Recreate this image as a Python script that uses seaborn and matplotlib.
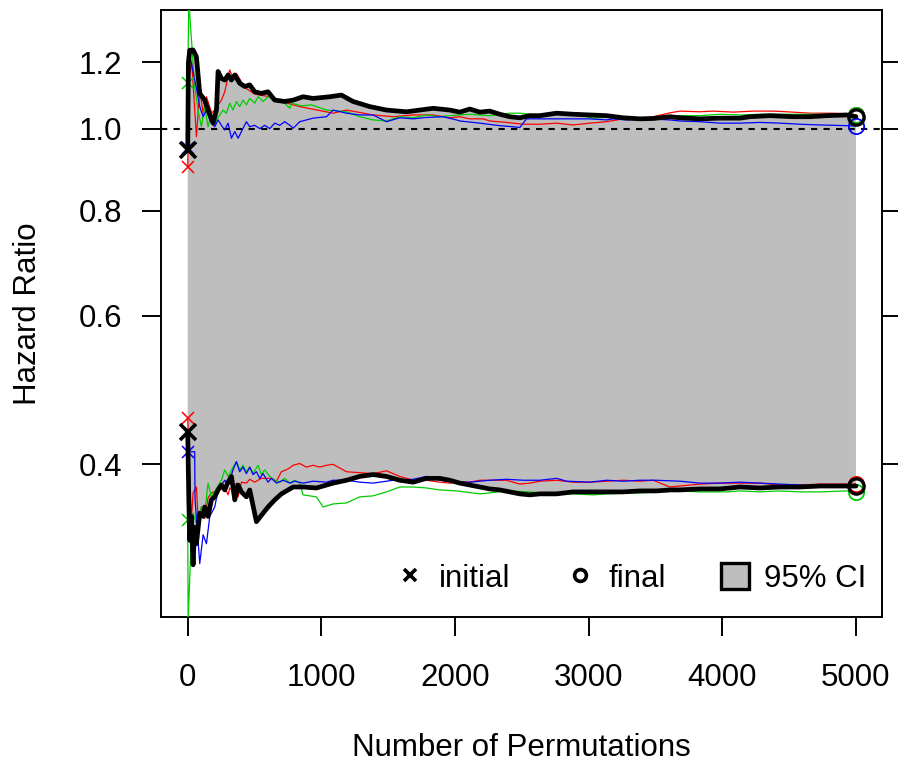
import numpy as np
import matplotlib
matplotlib.use("Agg")
import matplotlib.pyplot as plt
import seaborn as sns
from matplotlib.lines import Line2D
from matplotlib.patches import Patch
from matplotlib.ticker import FixedLocator, FormatStrFormatter, NullLocator

# permutation counts and hazard ratio CI bounds
perm_black_up = [0, 5, 15, 40, 65, 90, 127, 152, 190, 215,
                 227, 252, 277, 302, 327, 352, 389, 427, 464, 501,
                 551, 601, 651, 726, 789, 863, 938, 1063, 1150, 1237,
                 1362, 1487, 1637, 1836, 1886, 1961, 2036, 2111, 2186, 2260,
                 2335, 2410, 2485, 2560, 2635, 2760, 2884, 3009, 3134, 3258,
                 3383, 3483, 3608, 3683, 3832, 3982, 4132, 4207, 4356, 4531,
                 4656, 4781, 4930, 5000]
hr_black_up = [0.944, 1.20, 1.24, 1.241, 1.218, 1.102, 1.082, 1.053, 1.016, 1.053,
               1.170, 1.148, 1.143, 1.159, 1.143, 1.159, 1.133, 1.123, 1.128, 1.107,
               1.102, 1.107, 1.082, 1.078, 1.082, 1.092, 1.087, 1.092, 1.097, 1.078,
               1.063, 1.053, 1.048, 1.058, 1.056, 1.053, 1.047, 1.056, 1.047, 1.050,
               1.041, 1.034, 1.031, 1.037, 1.037, 1.044, 1.041, 1.039, 1.037, 1.031,
               1.028, 1.029, 1.034, 1.031, 1.028, 1.030, 1.030, 1.034, 1.037, 1.034,
               1.034, 1.037, 1.039, 1.034]

perm_black_lo = [0, 8, 15, 27, 40, 52, 65, 90, 115, 127,
                 152, 177, 202, 227, 252, 277, 302, 327, 352, 377,
                 402, 439, 464, 514, 551, 601, 651, 701, 751, 789,
                 863, 963, 1088, 1188, 1287, 1387, 1487, 1587, 1687, 1786,
                 1886, 1961, 2036, 2111, 2186, 2260, 2335, 2410, 2485, 2560,
                 2635, 2760, 2884, 3009, 3134, 3258, 3383, 3508, 3608, 3683,
                 3832, 3982, 4132, 4281, 4431, 4581, 4731, 4930, 5000]
hr_black_lo = [0.437, 0.363, 0.325, 0.347, 0.304, 0.337, 0.322, 0.350, 0.347, 0.356,
               0.347, 0.363, 0.366, 0.373, 0.378, 0.373, 0.381, 0.387, 0.363, 0.378,
               0.371, 0.366, 0.373, 0.342, 0.348, 0.356, 0.363, 0.369, 0.373, 0.376,
               0.376, 0.375, 0.380, 0.383, 0.387, 0.389, 0.387, 0.383, 0.381, 0.385,
               0.385, 0.383, 0.380, 0.378, 0.376, 0.374, 0.373, 0.371, 0.369, 0.368,
               0.369, 0.369, 0.371, 0.371, 0.371, 0.371, 0.372, 0.372, 0.373, 0.373,
               0.374, 0.374, 0.376, 0.375, 0.376, 0.376, 0.377, 0.377, 0.377]

perm_red_up = [0, 10, 30, 65, 90, 115, 140, 180, 215, 252,
               277, 314, 339, 364, 427, 501, 614, 726, 838, 1088,
               1188, 1387, 1537, 1687, 1836, 1961, 2036, 2111, 2211, 2260,
               2385, 2510, 2635, 2760, 2884, 3009, 3134, 3258, 3383, 3483,
               3608, 3683, 3832, 3932, 4082, 4232, 4381, 4531, 4656, 4830,
               4980, 5000]
hr_red_up = [0.902, 1.15, 1.20, 0.979, 1.112, 1.044, 1.092, 1.044, 1.060, 1.082,
             1.107, 1.175, 1.148, 1.164, 1.120, 1.100, 1.092, 1.075, 1.063, 1.044,
             1.053, 1.039, 1.034, 1.039, 1.039, 1.031, 1.034, 1.028, 1.028, 1.022,
             1.018, 1.013, 1.013, 1.016, 1.011, 1.016, 1.020, 1.028, 1.028, 1.034,
             1.045, 1.050, 1.048, 1.050, 1.047, 1.050, 1.050, 1.047, 1.044, 1.044,
             1.041, 1.039]

perm_green_up = [0, 8, 52, 77, 102, 127, 152, 177, 202, 240,
                 264, 289, 314, 339, 364, 389, 414, 439, 464, 501,
                 526, 564, 601, 651, 726, 764, 776, 850, 926, 1038,
                 1188, 1287, 1387, 1487, 1587, 1687, 1786, 1886, 1961, 2111,
                 2260, 2410, 2485, 2560, 2635, 2710, 2760, 2884, 3034, 3184,
                 3308, 3383, 3508, 3608, 3683, 3832, 3982, 4132, 4281, 4431,
                 4581, 4731, 4930, 5000]
hr_green_up = [1.133, 1.42, 1.123, 1.053, 1.006, 1.063, 1.006, 1.044, 1.016, 1.039,
               1.053, 1.044, 1.073, 1.053, 1.078, 1.063, 1.082, 1.068, 1.087, 1.073,
               1.092, 1.078, 1.092, 1.082, 1.073, 1.058, 1.073, 1.065, 1.068, 1.053,
               1.048, 1.034, 1.025, 1.022, 1.034, 1.031, 1.039, 1.034, 1.037, 1.041,
               1.037, 1.044, 1.044, 1.041, 1.034, 1.037, 1.044, 1.041, 1.030, 1.034,
               1.034, 1.028, 1.028, 1.034, 1.037, 1.037, 1.041, 1.039, 1.041, 1.041,
               1.041, 1.041, 1.041, 1.039]

perm_blue_up = [0, 8, 65, 90, 115, 140, 165, 202, 227, 252,
                277, 302, 327, 352, 377, 402, 439, 464, 501, 539,
                576, 614, 651, 689, 726, 764, 789, 838, 938, 1038,
                1088, 1188, 1287, 1387, 1487, 1587, 1687, 1786, 1911, 2011,
                2036, 2186, 2335, 2435, 2485, 2535, 2635, 2884, 3009, 3134,
                3184, 3283, 3433, 3608, 3683, 3832, 3982, 4132, 4281, 4431,
                4581, 4731, 4930, 5000]
hr_blue_up = [0.950, 1.240, 1.117, 1.063, 1.034, 1.053, 1.025, 1.006, 1.025, 1.010,
              0.997, 1.016, 0.975, 0.993, 0.975, 0.993, 1.020, 1.006, 1.010, 1.001,
              1.010, 1.001, 1.016, 1.010, 1.020, 1.010, 1.002, 1.020, 1.030, 1.034,
              1.053, 1.044, 1.039, 1.039, 1.020, 1.031, 1.028, 1.032, 1.034, 1.025,
              1.022, 1.016, 1.009, 1.006, 1.004, 1.028, 1.028, 1.028, 1.028, 1.025,
              1.028, 1.025, 1.028, 1.025, 1.022, 1.020, 1.016, 1.016, 1.018, 1.016,
              1.013, 1.011, 1.009, 1.008]

perm_red_lo = [0, 10, 27, 40, 65, 80, 102, 127, 152, 177,
               227, 277, 302, 314, 339, 364, 377, 402, 439, 464,
               501, 551, 626, 664, 701, 751, 789, 838, 888, 938,
               988, 1038, 1088, 1138, 1188, 1287, 1387, 1487, 1587, 1687,
               1786, 1886, 1961, 2036, 2111, 2186, 2260, 2385, 2485, 2560,
               2635, 2760, 2884, 3009, 3134, 3258, 3383, 3483, 3608, 3683,
               3832, 3982, 4132, 4281, 4431, 4581, 4731, 4930, 5000]
hr_red_lo = [0.454, 0.400, 0.343, 0.370, 0.376, 0.340, 0.356, 0.345, 0.365, 0.370,
             0.373, 0.376, 0.368, 0.375, 0.372, 0.380, 0.366, 0.381, 0.380, 0.384,
             0.381, 0.385, 0.385, 0.382, 0.392, 0.395, 0.399, 0.401, 0.397, 0.399,
             0.397, 0.399, 0.400, 0.396, 0.392, 0.391, 0.390, 0.393, 0.387, 0.383,
             0.383, 0.381, 0.380, 0.381, 0.381, 0.383, 0.383, 0.383, 0.379, 0.380,
             0.382, 0.383, 0.381, 0.381, 0.382, 0.383, 0.382, 0.383, 0.376, 0.377,
             0.379, 0.380, 0.380, 0.380, 0.378, 0.378, 0.379, 0.379, 0.379]

perm_green_lo = [0, 3, 27, 40, 65, 102, 127, 152, 177, 252,
                 277, 302, 339, 364, 389, 414, 439, 464, 489, 526,
                 551, 576, 614, 651, 689, 726, 764, 801, 838, 863,
                 963, 1013, 1088, 1188, 1287, 1387, 1487, 1587, 1687, 1786,
                 1886, 2011, 2186, 2260, 2385, 2560, 2635, 2760, 2884, 3034,
                 3134, 3383, 3533, 3683, 3832, 4032, 4132, 4281, 4431, 4581,
                 4731, 4930, 5000]
hr_green_lo = [0.344, 0.260, 0.331, 0.350, 0.340, 0.356, 0.350, 0.380, 0.366, 0.383,
               0.394, 0.387, 0.397, 0.403, 0.394, 0.399, 0.392, 0.397, 0.390, 0.399,
               0.389, 0.394, 0.387, 0.383, 0.381, 0.385, 0.380, 0.383, 0.380, 0.368,
               0.366, 0.356, 0.359, 0.360, 0.366, 0.367, 0.371, 0.376, 0.376, 0.375,
               0.373, 0.372, 0.369, 0.370, 0.372, 0.371, 0.370, 0.370, 0.369, 0.368,
               0.369, 0.370, 0.371, 0.372, 0.371, 0.371, 0.372, 0.371, 0.372, 0.371,
               0.371, 0.372, 0.371]

perm_blue_lo = [0, 40, 52, 55, 77, 90, 115, 140, 165, 202,
                227, 252, 277, 302, 339, 364, 389, 414, 439, 464,
                489, 514, 539, 564, 601, 626, 664, 714, 764, 801,
                863, 938, 1038, 1088, 1188, 1287, 1387, 1537, 1687, 1786,
                1886, 1986, 2111, 2260, 2385, 2510, 2635, 2760, 2835, 3009,
                3134, 3258, 3383, 3508, 3683, 3832, 3982, 4132, 4281, 4431,
                4581, 4731, 4930, 5000]
hr_blue_lo = [0.414, 0.414, 0.414, 0.363, 0.325, 0.305, 0.330, 0.322, 0.347, 0.356,
              0.373, 0.378, 0.383, 0.378, 0.394, 0.403, 0.392, 0.397, 0.390, 0.397,
              0.389, 0.392, 0.385, 0.390, 0.381, 0.385, 0.380, 0.383, 0.380, 0.382,
              0.380, 0.382, 0.381, 0.383, 0.383, 0.381, 0.380, 0.383, 0.384, 0.387,
              0.383, 0.381, 0.381, 0.383, 0.384, 0.383, 0.383, 0.385, 0.382, 0.381,
              0.383, 0.382, 0.383, 0.383, 0.382, 0.380, 0.380, 0.381, 0.380, 0.379,
              0.378, 0.377, 0.377, 0.377]

y_ticks = [0.4, 0.6, 0.8, 1.0, 1.2]
x_ticks = [0, 1000, 2000, 3000, 4000, 5000]
legend_labels = ["initial", "final", "95% CI"]

sns.set_style("ticks", rc={"axes.edgecolor": "black", "text.color": "black",
                           "axes.labelcolor": "black", "xtick.color": "black",
                           "ytick.color": "black"})
plt.rcParams["font.family"] = ["Liberation Sans", "DejaVu Sans"]
FS = 22.5

fig = plt.figure(figsize=(8.98, 7.71), dpi=100)
ax = fig.add_axes([161 / 898, 1 - 617 / 771, 721 / 898, 607 / 771])

# grey band between the black bounds
ax.fill(np.r_[perm_black_up, perm_black_lo[::-1]],
        np.r_[hr_black_up, hr_black_lo[::-1]],
        color="#BEBEBE", lw=0, zorder=1)
ax.axhline(1.0, color="black", lw=1.5, ls=(0, (3, 3)), zorder=2)

runs = [
    ("red", perm_red_up, hr_red_up, perm_red_lo, hr_red_lo),
    ("#00CD00", perm_green_up, hr_green_up, perm_green_lo, hr_green_lo),
    ("blue", perm_blue_up, hr_blue_up, perm_blue_lo, hr_blue_lo),
]
for col, pu, hu, pl, hl in runs:
    for p, h in [(pu, hu), (pl, hl)]:
        sns.lineplot(x=p, y=h, color=col, lw=0.9, estimator=None, sort=False,
                     ax=ax, zorder=3)
        ax.plot(p[0], h[0], marker="x", ms=9, mew=1.1, color=col, ls="none", zorder=4)
        ax.plot(p[-1], h[-1], marker="o", ms=11, mew=1.3, mfc="none", mec=col,
                ls="none", zorder=4)

for p, h in [(perm_black_up, hr_black_up), (perm_black_lo, hr_black_lo)]:
    sns.lineplot(x=p, y=h, color="black", lw=3.4, estimator=None, sort=False,
                 ax=ax, zorder=5)
    ax.plot(p[0], h[0], marker="x", ms=11, mew=2.6, color="black", ls="none", zorder=6)
    ax.plot(p[-1], h[-1], marker="o", ms=11, mew=2.4, mfc="none", mec="black",
            ls="none", zorder=6)

ax.set_yscale("log")
ax.set_xlim(-200, 5195)
ax.set_ylim(0.2636, 1.384)
ax.yaxis.set_major_locator(FixedLocator(y_ticks))
ax.yaxis.set_major_formatter(FormatStrFormatter("%.1f"))
ax.yaxis.set_minor_locator(NullLocator())
ax.set_xticks(x_ticks)
ax.set_xticklabels([str(t) for t in x_ticks])

for s in ax.spines.values():
    s.set_linewidth(1.4)
    s.set_visible(True)
ax.tick_params(axis="both", which="major", direction="out", length=13.7, width=1.4,
               labelsize=FS)
ax.tick_params(axis="y", right=True, labelright=False, pad=14)
ax.tick_params(axis="x", pad=19.5)

ax.set_xlabel("Number of Permutations", fontsize=FS, va="center")
ax.xaxis.set_label_coords(0.5, -0.2158)
ax.set_ylabel("Hazard Ratio", fontsize=FS, va="center")
ax.yaxis.set_label_coords(-0.1845, 0.5)

handles = [
    Line2D([], [], marker="x", color="black", ls="none", ms=9, mew=2.6),
    Line2D([], [], marker="o", mfc="none", mec="black", ls="none", ms=8.5, mew=2.6),
    Patch(facecolor="#BEBEBE", edgecolor="black", lw=2.4),
]
ax.legend(handles, legend_labels, loc="center right", bbox_to_anchor=(0.978, 0.064),
          ncol=3, frameon=False, fontsize=FS, handlelength=0.9, handleheight=0.93,
          handletextpad=0.48, columnspacing=1.75, borderaxespad=0, borderpad=0)

fig.savefig("out.png", dpi=100)
